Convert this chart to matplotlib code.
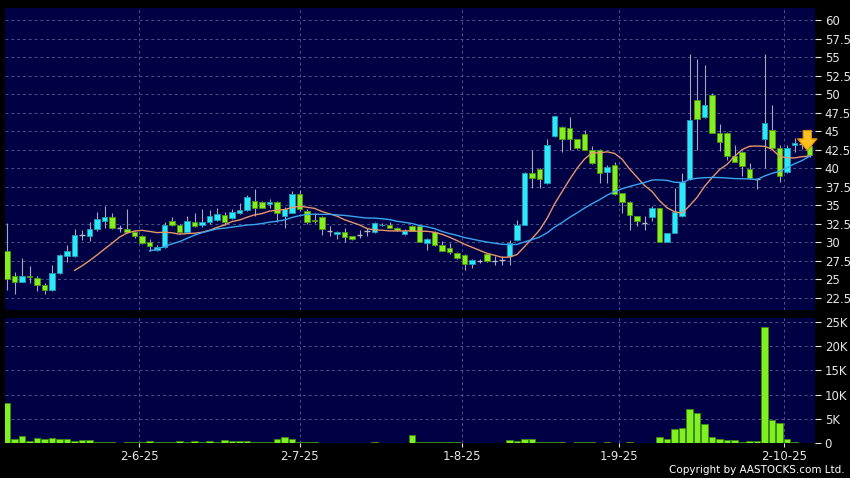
import numpy as np
import pandas as pd
import matplotlib
matplotlib.use("Agg")
import matplotlib.pyplot as plt

# daily OHLC (one row per trading day)
opens = [28.8, 25.5, 24.7, 25.5, 25.2, 24.2, 23.6, 25.9, 28.2, 28.2,
         31.0, 30.9, 31.8, 32.9, 33.4, 31.9, 31.8, 31.4, 30.9, 30.0,
         29.0, 29.4, 32.9, 32.3, 31.45, 32.8, 32.3, 32.7, 33.0, 33.7,
         33.3, 33.9, 34.4, 35.6, 35.4, 35.2, 35.5, 33.6, 34.0, 36.5,
         34.3, 33.0, 33.4, 31.6, 31.1, 31.45, 30.8, 31.0, 31.6, 31.4,
         32.3, 32.4, 32.0, 31.1, 32.2, 32.2, 29.9, 31.4, 29.6, 29.3,
         28.6, 28.3, 27.1, 27.5, 28.5, 27.5, 27.6, 28.1, 30.3, 32.4,
         39.4, 39.86, 38.0, 44.3, 45.5, 45.4, 43.9, 44.6, 42.5, 42.5,
         39.5, 40.4, 36.6, 35.5, 33.56, 32.66, 33.4, 34.6, 30.1, 31.3,
         33.6, 38.5, 49.2, 46.9, 49.9, 44.8, 44.8, 41.6, 42.2, 39.85,
         38.5, 43.9, 45.2, 42.8, 39.5, 43.2, 43.3, 43.0]
highs = [32.6, 26.0, 27.9, 26.8, 25.4, 24.5, 26.9, 28.5, 29.6, 31.8,
         31.7, 32.7, 34.1, 34.9, 34.0, 32.3, 34.5, 31.6, 31.0, 30.4,
         29.6, 32.7, 33.4, 32.5, 33.6, 34.0, 34.5, 34.4, 34.6, 34.1,
         34.5, 35.3, 36.4, 37.2, 35.6, 35.9, 35.6, 34.8, 37.0, 37.1,
         34.5, 33.9, 33.5, 32.2, 31.6, 31.9, 30.9, 31.7, 31.9, 32.7,
         32.6, 32.8, 32.1, 31.8, 32.4, 32.3, 30.6, 31.5, 30.2, 29.9,
         28.7, 28.4, 27.7, 27.8, 28.6, 28.1, 28.1, 30.3, 33.0, 39.5,
         42.4, 40.0, 43.9, 47.1, 45.7, 46.9, 44.0, 45.2, 43.0, 42.6,
         40.4, 40.9, 36.7, 35.6, 33.6, 33.5, 34.9, 34.7, 31.3, 37.4,
         39.3, 55.4, 54.8, 53.9, 50.2, 46.0, 44.9, 43.1, 42.3, 40.7,
         38.7, 55.4, 48.5, 43.2, 43.1, 44.1, 43.6, 43.1]
lows = [23.6, 23.0, 24.6, 24.5, 23.4, 23.1, 23.4, 25.7, 27.3, 28.0,
        30.3, 30.2, 31.6, 32.0, 31.8, 31.4, 31.3, 30.6, 29.8, 28.9,
        28.8, 29.3, 32.2, 31.2, 31.4, 32.1, 32.1, 32.5, 32.9, 32.3,
        33.1, 33.8, 34.3, 33.6, 34.6, 34.6, 32.8, 31.9, 33.9, 34.3,
        32.5, 32.6, 31.0, 30.9, 30.4, 30.1, 30.3, 30.6, 30.8, 31.3,
        32.2, 31.9, 31.6, 31.0, 31.5, 30.0, 29.0, 29.5, 28.8, 28.5,
        27.7, 26.3, 26.5, 27.2, 27.4, 27.0, 27.0, 27.0, 30.2, 32.3,
        37.4, 37.3, 37.9, 44.2, 42.2, 42.5, 42.6, 42.4, 40.6, 38.06,
        38.0, 36.4, 33.9, 31.7, 32.2, 31.7, 32.9, 30.0, 30.0, 31.2,
        33.4, 38.4, 42.5, 46.8, 44.7, 42.3, 41.1, 40.8, 38.9, 38.5,
        37.2, 40.0, 42.6, 38.2, 39.3, 42.2, 42.6, 41.5]
closes = [25.0, 24.7, 25.5, 25.3, 24.2, 23.6, 25.9, 28.3, 28.8, 31.0,
          31.0, 31.8, 33.1, 33.4, 31.9, 31.9, 31.4, 30.9, 29.9, 29.5,
          29.4, 32.35, 32.35, 31.45, 32.9, 32.2, 32.7, 33.6, 33.8, 32.7,
          34.1, 34.4, 36.1, 34.6, 34.7, 35.5, 33.9, 34.5, 36.5, 34.5,
          32.7, 32.9, 31.8, 31.6, 31.45, 30.7, 30.4, 31.0, 31.6, 32.6,
          32.4, 32.0, 31.7, 31.6, 31.6, 30.1, 30.4, 29.6, 28.9, 28.7,
          27.85, 27.1, 27.6, 27.5, 27.5, 27.5, 27.6, 29.9, 32.35, 39.4,
          38.7, 38.6, 43.2, 47.05, 44.0, 43.9, 42.7, 42.5, 40.75, 39.3,
          40.2, 36.5, 35.5, 33.7, 32.9, 32.66, 34.6, 30.1, 31.2, 34.1,
          38.2, 46.5, 46.7, 48.5, 44.8, 43.5, 41.6, 40.9, 40.3, 38.7,
          38.5, 46.1, 42.8, 38.95, 42.7, 43.4, 43.3, 41.8]
# volume in thousands of shares
volumes = [8.3, 0.8, 1.4, 0.4, 1.0, 0.8, 1.0, 0.9, 0.8, 0.5,
           0.7, 0.6, 0.3, 0.3, 0.2, 0.1, 0.3, 0.3, 0.3, 0.5,
           0.2, 0.3, 0.2, 0.5, 0.2, 0.4, 0.3, 0.5, 0.3, 0.6,
           0.4, 0.5, 0.5, 0.2, 0.3, 0.2, 0.8, 1.2, 0.9, 0.2,
           0.2, 0.2, 0.1, 0.1, 0.1, 0.1, 0.1, 0.1, 0.1, 0.2,
           0.1, 0.1, 0.1, 0.1, 1.7, 0.3, 0.2, 0.2, 0.3, 0.3,
           0.3, 0.1, 0.1, 0.1, 0.1, 0.1, 0.1, 0.7, 0.5, 0.8,
           0.8, 0.3, 0.3, 0.3, 0.2, 0.1, 0.3, 0.2, 0.2, 0.1,
           0.2, 0.1, 0.1, 0.2, 0.1, 0.1, 0.1, 1.2, 0.9, 2.8,
           3.0, 7.0, 6.3, 4.0, 1.2, 0.8, 0.6, 0.6, 0.3, 0.5,
           0.4, 24.0, 4.7, 4.2, 0.8, 0.2, 0.1, 0.1]

date_labels = ["2-6-25", "2-7-25", "1-8-25", "1-9-25", "2-10-25"]
date_pos = [17.6, 39.0, 60.6, 81.6, 103.6]
price_ticks = np.arange(22.5, 60.1, 2.5)
vol_ticks = [0, 5, 10, 15, 20, 25]

df = pd.DataFrame({"open": opens, "high": highs, "low": lows, "close": closes, "vol": volumes})
df["ma10"] = df["close"].rolling(10).mean()
df["ma20"] = df["close"].rolling(20).mean()
x = np.arange(len(df))

NAVY = "#000044"
GRID = "#50508a"
TXT = "#e6e6e6"
UP = "#2ee8f8"
UP_EDGE = "#1a9fb8"
DOWN = "#86ee1c"
DOWN_EDGE = "#4c9a10"

fig = plt.figure(figsize=(8.5, 4.78), dpi=100, facecolor="black")
ax = fig.add_axes([5/850, 1-310/478, 810/850, 302/478])
axv = fig.add_axes([5/850, 1-443/478, 810/850, 125/478], sharex=ax)

for a in (ax, axv):
    a.set_facecolor(NAVY)
    for s in a.spines.values():
        s.set_visible(False)
    a.yaxis.tick_right()
    a.tick_params(axis="y", colors=TXT, labelcolor=TXT, length=4, width=0.8,
                  labelsize=8.5, pad=3, direction="out")
    a.grid(True, color=GRID, linestyle=(0, (3, 3)), linewidth=0.7)
    a.set_axisbelow(True)

# candles
ax.vlines(x, df["low"], df["high"], color="#a8a8b8", linewidth=0.8, zorder=2)
diff = df["close"] - df["open"]
up = diff > 0.05
down = diff < -0.05
flat = ~(up | down)
ax.bar(x[up], diff[up], bottom=df["open"][up], width=0.74,
       color=UP, edgecolor=UP_EDGE, linewidth=0.6, zorder=3)
ax.bar(x[down], -diff[down], bottom=df["close"][down], width=0.74,
       color=DOWN, edgecolor=DOWN_EDGE, linewidth=0.6, zorder=3)
ax.hlines(df["close"][flat], x[flat] - 0.37, x[flat] + 0.37, color="#b8b8c8",
          linewidth=1.0, zorder=3)

ax.plot(x, df["ma10"], color="#e8966a", linewidth=1.0, zorder=4)
ax.plot(x, df["ma20"], color="#3aa6ee", linewidth=1.0, zorder=4)

# marker arrow over the latest bar
ax.annotate("", xy=(106.7, closes[-1] + 0.6), xytext=(106.7, highs[-1] + 2.0),
            arrowprops=dict(arrowstyle="simple,head_width=0.7,head_length=0.42,tail_width=0.3",
                            mutation_scale=20, fc="#ffc020", ec="#e08a00", lw=0.8,
                            shrinkA=0, shrinkB=0), zorder=5)

ax.set_ylim(20.88, 61.62)
ax.set_yticks(price_ticks)
ax.set_yticklabels([f"{t:g}" for t in price_ticks])
ax.set_xlim(-0.27, 107.73)
ax.set_xticks(date_pos)
ax.tick_params(axis="x", length=0, labelbottom=False)

# volume
axv.bar(x, df["vol"], width=0.85, color="#80f020", edgecolor="#3c8c10", linewidth=0.6, zorder=3)
axv.set_ylim(0, 25.83)
axv.set_yticks(vol_ticks)
axv.set_yticklabels(["0"] + [f"{t}K" for t in vol_ticks[1:]])
axv.set_xticks(date_pos)
axv.set_xticklabels(date_labels)
axv.tick_params(axis="x", colors=TXT, labelcolor=TXT, length=3, labelsize=8.5, pad=2)

fig.text(845/850, 1-470/478, "Copyright by AASTOCKS.com Ltd.", color="white",
         fontsize=7.5, ha="right", va="center")

fig.savefig("out.png", dpi=100, facecolor="black")
